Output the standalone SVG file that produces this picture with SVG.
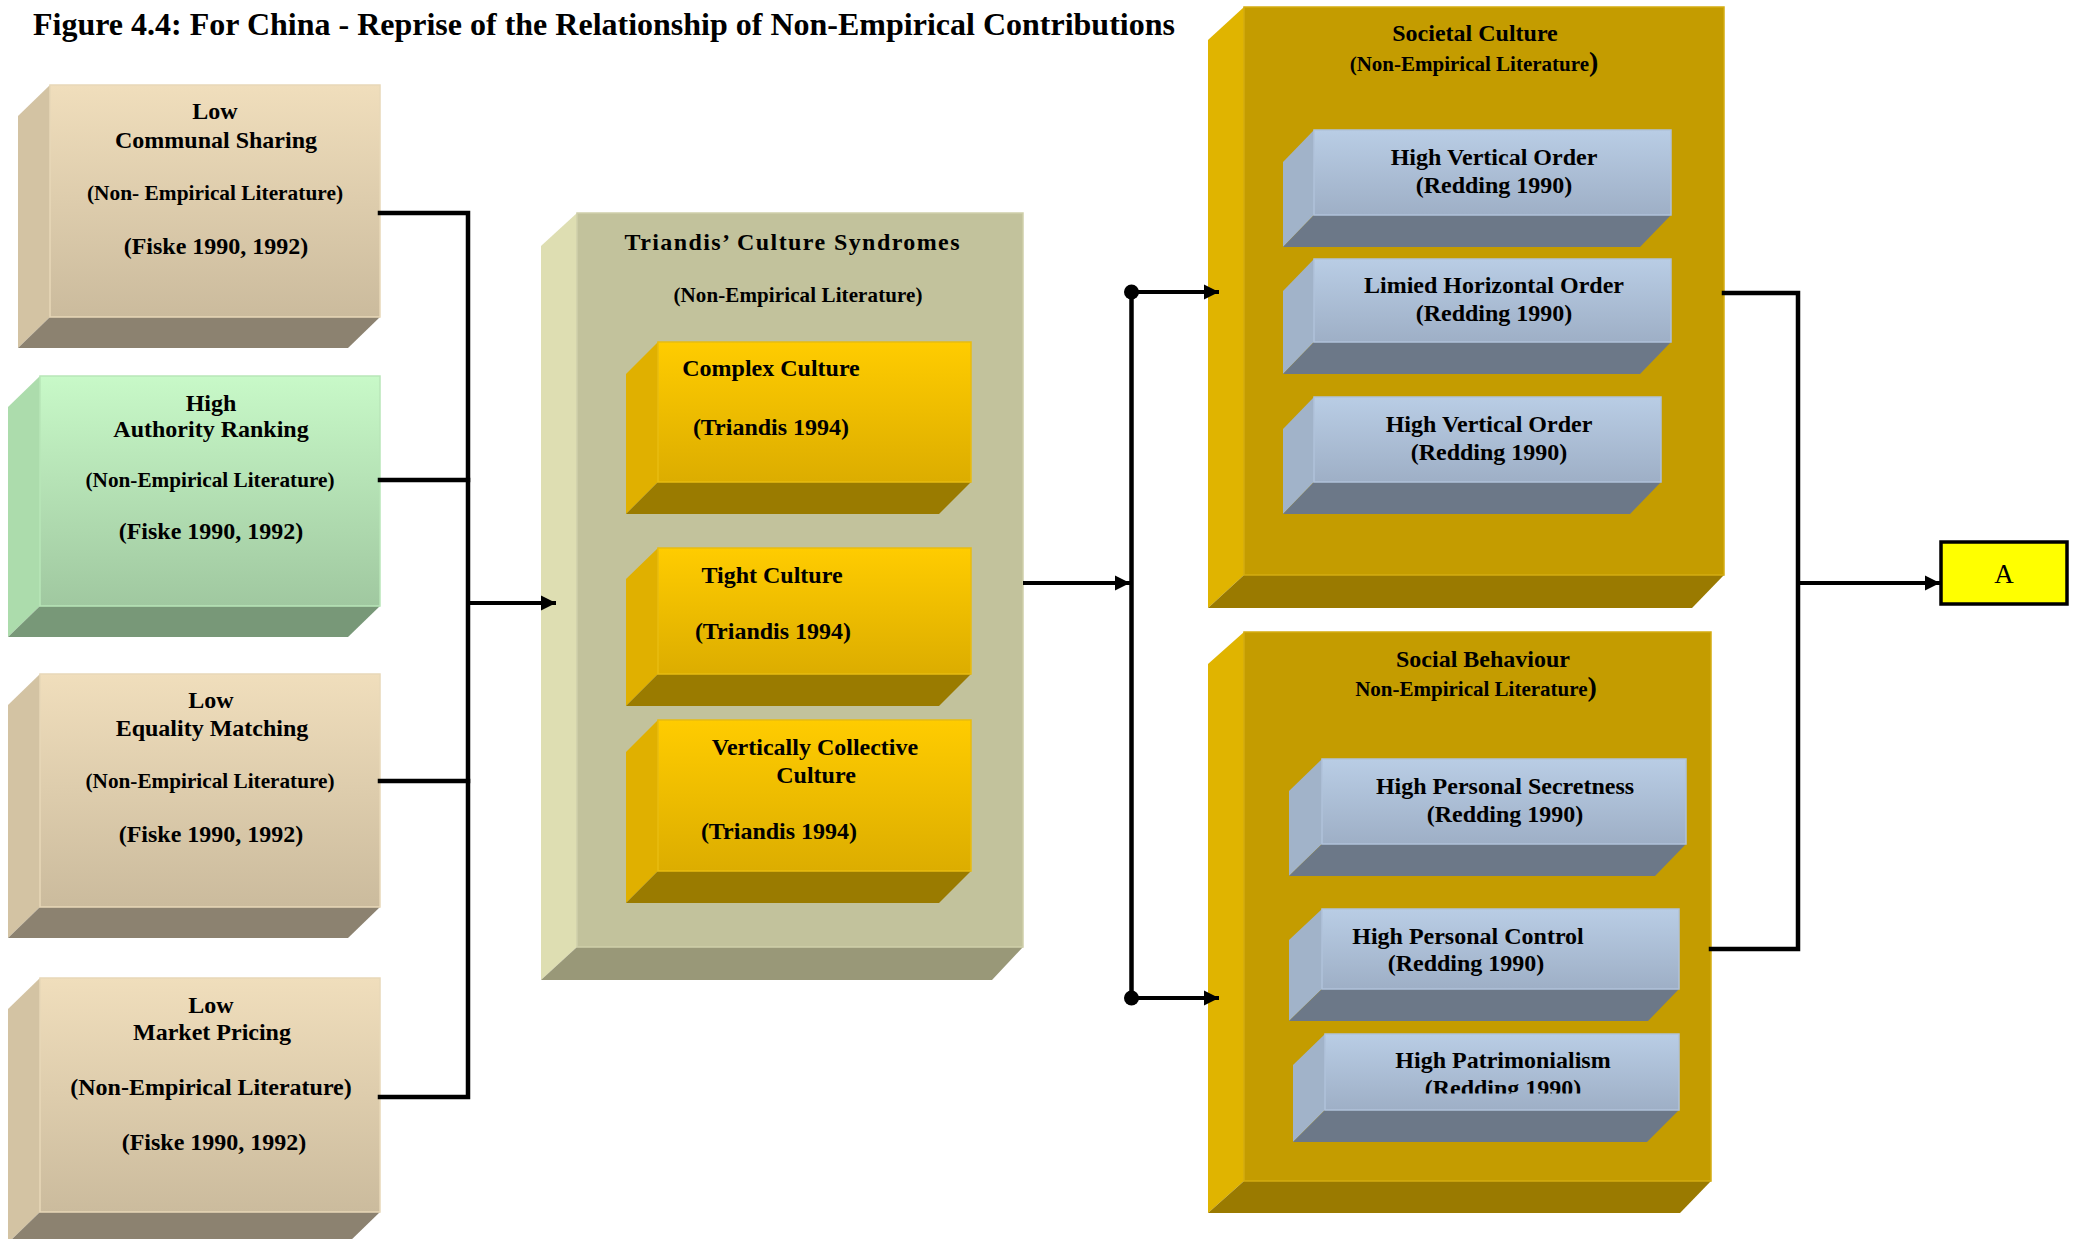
<svg xmlns="http://www.w3.org/2000/svg" width="2078" height="1239" viewBox="0 0 2078 1239">
  <defs>
    <linearGradient id="gBeige" x1="0" y1="0" x2="0" y2="1">
      <stop offset="0" stop-color="#F0DEBC"/>
      <stop offset="1" stop-color="#CBBB9D"/>
    </linearGradient>
    <linearGradient id="gGreen" x1="0" y1="0" x2="0" y2="1">
      <stop offset="0" stop-color="#C8F9C8"/>
      <stop offset="1" stop-color="#A0C8A0"/>
    </linearGradient>
    <linearGradient id="gYellow" x1="0" y1="0" x2="0" y2="1">
      <stop offset="0" stop-color="#FFCC00"/>
      <stop offset="1" stop-color="#DCAD00"/>
    </linearGradient>
    <linearGradient id="gBlue" x1="0" y1="0" x2="0" y2="1">
      <stop offset="0" stop-color="#B9CDE5"/>
      <stop offset="1" stop-color="#9EAFC6"/>
    </linearGradient>
    <marker id="arrow" markerUnits="userSpaceOnUse" markerWidth="16" markerHeight="16" refX="15" refY="8" orient="auto">
      <path d="M0,0.5 L15,8 L0,15.5 z" fill="#000"/>
    </marker>
    <clipPath id="clipHP">
      <rect x="1325" y="1034" width="354" height="59.5"/>
    </clipPath>
    <style>
      text { font-family: "Liberation Serif", "Times New Roman", serif; font-weight: bold; fill: #000; text-anchor: middle; }
      .m { font-size: 24px; }
      .s { font-size: 21px; }
      .bp { font-size: 28px; }
      .title { font-size: 32px; text-anchor: start; }
      .beige-front { fill: url(#gBeige); stroke: #E8D8B8; stroke-width: 1.5; }
      .beige-side { fill: #D3C3A3; }
      .beige-bottom { fill: #8C8270; }
      .green-front { fill: url(#gGreen); stroke: #B8E6B8; stroke-width: 1.5; }
      .green-side { fill: #ACDCAC; }
      .green-bottom { fill: #789878; }
      .olive-front { fill: #C2C29C; stroke: #CFCFAA; stroke-width: 1.5; }
      .olive-side { fill: #DEDEB2; }
      .olive-bottom { fill: #999878; }
      .yellow-front { fill: url(#gYellow); stroke: #E8BC10; stroke-width: 1.5; }
      .yellow-side { fill: #E0B000; }
      .yellow-bottom { fill: #9A7B00; }
      .gold-front { fill: #C49C00; stroke: #D4AC10; stroke-width: 1.5; }
      .gold-side { fill: #E0B400; }
      .gold-bottom { fill: #9A7A00; }
      .blue-front { fill: url(#gBlue); stroke: #B0C2DA; stroke-width: 1.5; }
      .blue-side { fill: #A1B3C9; }
      .blue-bottom { fill: #6C7888; }
      .wire { fill: none; stroke: #000; stroke-width: 4.5; stroke-linecap: square; }
      .feed { fill: none; stroke: #000; stroke-width: 4; }
      .dot { fill: #000; }
    </style>
  </defs>

  <rect x="0" y="0" width="2078" height="1239" fill="#FFFFFF"/>

  <text class="title" x="33" y="35">Figure 4.4: For China - Reprise of the Relationship of Non-Empirical Contributions</text>

  <!-- Relational models (left column) -->
  <g id="communal-sharing">
    <polygon class="beige-side" points="18,116 50,85 50,317 18,348"/>
    <polygon class="beige-bottom" points="18,348 50,317 380,317 348,348"/>
    <rect class="beige-front" x="50" y="85" width="330" height="232"/>
    <text class="m" x="215" y="119">Low</text>
    <text class="m" x="216" y="148">Communal Sharing</text>
    <text class="s" x="215" y="200" textLength="256" lengthAdjust="spacingAndGlyphs">(Non- Empirical Literature)</text>
    <text class="m" x="216" y="254">(Fiske 1990, 1992)</text>
  </g>

  <g id="authority-ranking">
    <polygon class="green-side" points="8,407 40,376 40,606 8,637"/>
    <polygon class="green-bottom" points="8,637 40,606 380,606 348,637"/>
    <rect class="green-front" x="40" y="376" width="340" height="230"/>
    <text class="m" x="211" y="411">High</text>
    <text class="m" x="211" y="437">Authority Ranking</text>
    <text class="s" x="210" y="487" textLength="249" lengthAdjust="spacingAndGlyphs">(Non-Empirical Literature)</text>
    <text class="m" x="211" y="539">(Fiske 1990, 1992)</text>
  </g>

  <g id="equality-matching">
    <polygon class="beige-side" points="8,705 40,674 40,907 8,938"/>
    <polygon class="beige-bottom" points="8,938 40,907 380,907 348,938"/>
    <rect class="beige-front" x="40" y="674" width="340" height="233"/>
    <text class="m" x="211" y="708">Low</text>
    <text class="m" x="212" y="736">Equality Matching</text>
    <text class="s" x="210" y="788" textLength="249" lengthAdjust="spacingAndGlyphs">(Non-Empirical Literature)</text>
    <text class="m" x="211" y="842">(Fiske 1990, 1992)</text>
  </g>

  <g id="market-pricing">
    <polygon class="beige-side" points="8,1009 40,978 40,1212 8,1243"/>
    <polygon class="beige-bottom" points="8,1243 40,1212 380,1212 348,1243"/>
    <rect class="beige-front" x="40" y="978" width="340" height="234"/>
    <text class="m" x="211" y="1013">Low</text>
    <text class="m" x="212" y="1040">Market Pricing</text>
    <text class="m" x="211" y="1095">(Non-Empirical Literature)</text>
    <text class="m" x="214" y="1150">(Fiske 1990, 1992)</text>
  </g>

  <!-- Culture syndromes (centre column) -->
  <g id="triandis-syndromes">
    <polygon class="olive-side" points="541,246 577,213 577,947 541,980"/>
    <polygon class="olive-bottom" points="541,980 577,947 1023,947 992,980"/>
    <rect class="olive-front" x="577" y="213" width="446" height="734"/>
    <text class="m" x="792" y="250" textLength="335" lengthAdjust="spacing">Triandis’ Culture Syndromes</text>
    <text class="s" x="798" y="302" textLength="249" lengthAdjust="spacing">(Non-Empirical Literature)</text>

    <g id="complex-culture">
      <polygon class="yellow-side" points="626,374 658,342 658,482 626,514"/>
      <polygon class="yellow-bottom" points="626,514 658,482 971,482 939,514"/>
      <rect class="yellow-front" x="658" y="342" width="313" height="140"/>
      <text class="m" x="771" y="376">Complex Culture</text>
      <text class="m" x="771" y="435">(Triandis 1994)</text>
    </g>

    <g id="tight-culture">
      <polygon class="yellow-side" points="626,579 658,548 658,674 626,706"/>
      <polygon class="yellow-bottom" points="626,706 658,674 971,674 939,706"/>
      <rect class="yellow-front" x="658" y="548" width="313" height="126"/>
      <text class="m" x="772" y="583">Tight Culture</text>
      <text class="m" x="773" y="639">(Triandis 1994)</text>
    </g>

    <g id="vertically-collective">
      <polygon class="yellow-side" points="626,752 658,720 658,871 626,903"/>
      <polygon class="yellow-bottom" points="626,903 658,871 971,871 939,903"/>
      <rect class="yellow-front" x="658" y="720" width="313" height="151"/>
      <text class="m" x="815" y="755">Vertically Collective</text>
      <text class="m" x="816" y="783">Culture</text>
      <text class="m" x="779" y="839">(Triandis 1994)</text>
    </g>
  </g>

  <!-- Societal culture (upper right) -->
  <g id="societal-culture">
    <polygon class="gold-side" points="1208,40 1244,7 1244,575 1208,608"/>
    <polygon class="gold-bottom" points="1208,608 1244,575 1724,575 1692,608"/>
    <rect class="gold-front" x="1244" y="7" width="480" height="568"/>
    <text class="m" x="1475" y="41">Societal Culture</text>
    <text class="s" x="1474" y="71">(Non-Empirical Literature<tspan class="bp">)</tspan></text>

    <g id="high-vertical-order-1">
      <polygon class="blue-side" points="1283,162 1314,130 1314,215 1283,247"/>
      <polygon class="blue-bottom" points="1283,247 1314,215 1671,215 1640,247"/>
      <rect class="blue-front" x="1314" y="130" width="357" height="85"/>
      <text class="m" x="1494" y="165">High Vertical Order</text>
      <text class="m" x="1494" y="193">(Redding 1990)</text>
    </g>

    <g id="limited-horizontal-order">
      <polygon class="blue-side" points="1283,291 1314,259 1314,342 1283,374"/>
      <polygon class="blue-bottom" points="1283,374 1314,342 1671,342 1640,374"/>
      <rect class="blue-front" x="1314" y="259" width="357" height="83"/>
      <text class="m" x="1494" y="293">Limied Horizontal Order</text>
      <text class="m" x="1494" y="321">(Redding 1990)</text>
    </g>

    <g id="high-vertical-order-2">
      <polygon class="blue-side" points="1283,429 1314,397 1314,482 1283,514"/>
      <polygon class="blue-bottom" points="1283,514 1314,482 1661,482 1630,514"/>
      <rect class="blue-front" x="1314" y="397" width="347" height="85"/>
      <text class="m" x="1489" y="432">High Vertical Order</text>
      <text class="m" x="1489" y="460">(Redding 1990)</text>
    </g>
  </g>

  <!-- Social behaviour (lower right) -->
  <g id="social-behaviour">
    <polygon class="gold-side" points="1208,664 1244,632 1244,1181 1208,1213"/>
    <polygon class="gold-bottom" points="1208,1213 1244,1181 1711,1181 1680,1213"/>
    <rect class="gold-front" x="1244" y="632" width="467" height="549"/>
    <text class="m" x="1483" y="667">Social Behaviour</text>
    <text class="s" x="1476" y="696">Non-Empirical Literature<tspan class="bp">)</tspan></text>

    <g id="personal-secretness">
      <polygon class="blue-side" points="1289,791 1322,759 1322,844 1289,876"/>
      <polygon class="blue-bottom" points="1289,876 1322,844 1686,844 1655,876"/>
      <rect class="blue-front" x="1322" y="759" width="364" height="85"/>
      <text class="m" x="1505" y="794">High Personal Secretness</text>
      <text class="m" x="1505" y="822">(Redding 1990)</text>
    </g>

    <g id="personal-control">
      <polygon class="blue-side" points="1289,940 1322,909 1322,989 1289,1021"/>
      <polygon class="blue-bottom" points="1289,1021 1322,989 1679,989 1648,1021"/>
      <rect class="blue-front" x="1322" y="909" width="357" height="80"/>
      <text class="m" x="1468" y="944">High Personal Control</text>
      <text class="m" x="1466" y="971">(Redding 1990)</text>
    </g>

    <g id="patrimonialism">
      <polygon class="blue-side" points="1293,1065 1325,1034 1325,1110 1293,1142"/>
      <polygon class="blue-bottom" points="1293,1142 1325,1110 1679,1110 1647,1142"/>
      <rect class="blue-front" x="1325" y="1034" width="354" height="76"/>
      <g clip-path="url(#clipHP)">
        <text class="m" x="1503" y="1068">High Patrimonialism</text>
        <text class="m" x="1503" y="1096">(Redding 1990)</text>
      </g>
    </g>
  </g>

  <!-- Outcome -->
  <g id="outcome-a">
    <rect x="1941" y="542" width="126" height="62" fill="#FFFF00" stroke="#000" stroke-width="3.5"/>
    <text x="2004" y="583" style="font-size:27px;font-weight:normal">A</text>
  </g>

  <!-- Connectors -->
  <g id="connectors">
    <path class="wire" d="M380,213 H468 V1097 H380"/>
    <path class="wire" d="M380,480 H468"/>
    <path class="wire" d="M380,781 H468"/>
    <path class="feed" d="M468,603 H556" marker-end="url(#arrow)"/>
    <path class="feed" d="M1023,583 H1130" marker-end="url(#arrow)"/>
    <path class="wire" d="M1131.5,292 V998"/>
    <circle class="dot" cx="1131.5" cy="292" r="7.5"/>
    <circle class="dot" cx="1131.5" cy="998" r="7.5"/>
    <path class="feed" d="M1131.5,292 H1219" marker-end="url(#arrow)"/>
    <path class="feed" d="M1131.5,998 H1219" marker-end="url(#arrow)"/>
    <path class="wire" d="M1724,293 H1798 V949 H1711"/>
    <path class="feed" d="M1798,583 H1940" marker-end="url(#arrow)"/>
  </g>
</svg>
